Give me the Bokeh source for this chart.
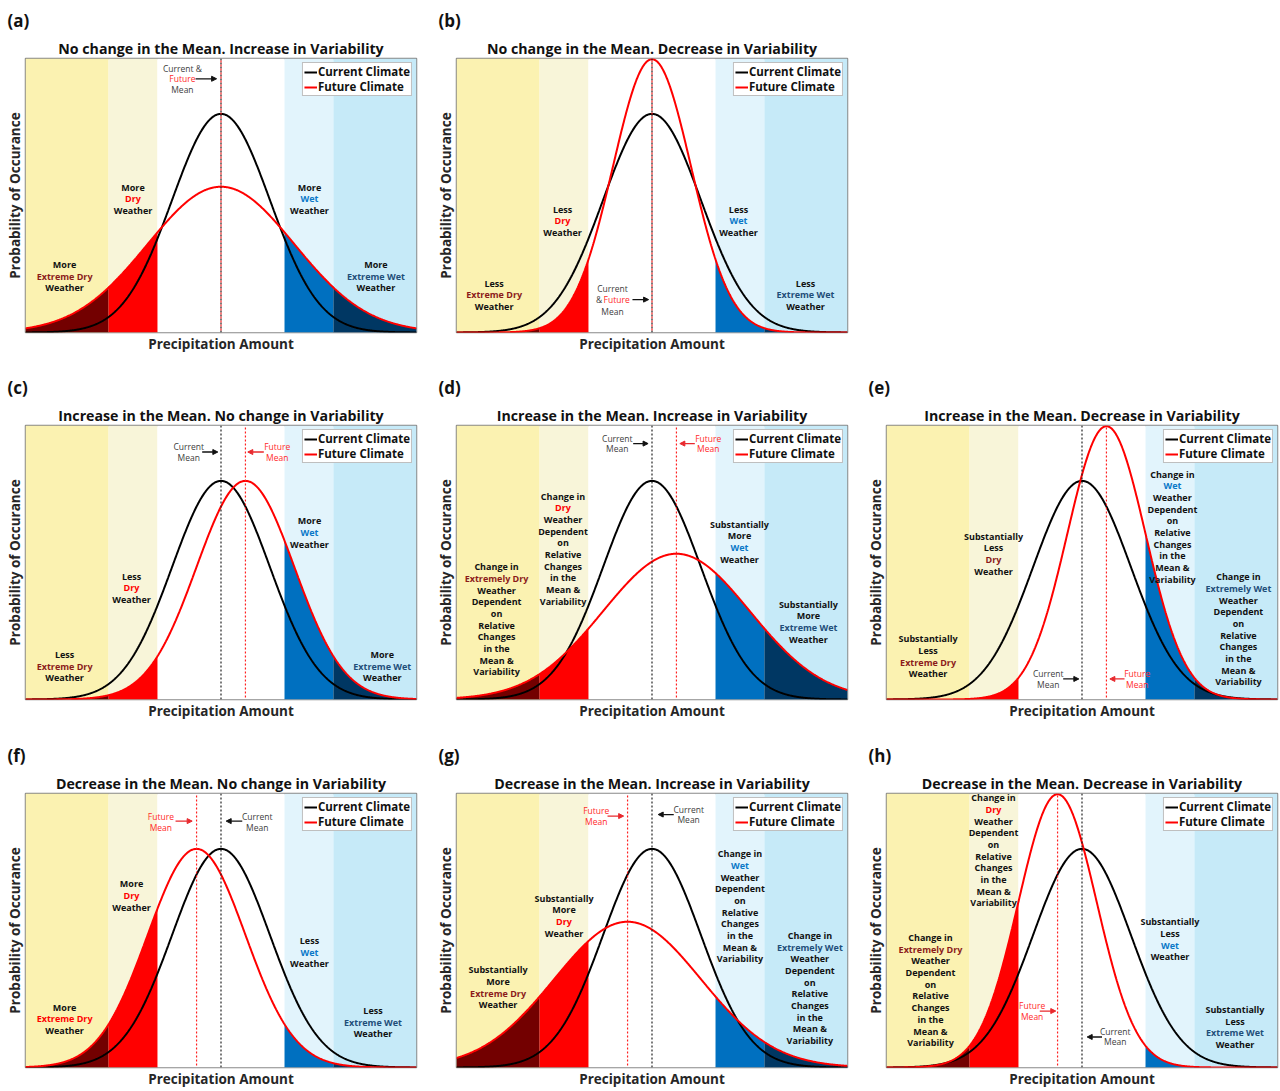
import numpy as np
from bokeh.plotting import figure
from bokeh.layouts import column, row
from bokeh.models import (ColumnDataSource, Range1d, Span, Arrow, NormalHead,
                          Legend, LegendItem, FixedTicker, Title)
from bokeh.core.properties import value
from bokeh.embed import file_html
from bokeh.resources import INLINE

# ---------------- data ----------------
panel_letters = ["(a)", "(b)", "(c)", "(d)", "(e)", "(f)", "(g)", "(h)"]
panel_titles = [
    "No change in the Mean. Increase in Variability",
    "No change in the Mean. Decrease in Variability",
    "Increase in the Mean. No change in Variability",
    "Increase in the Mean. Increase in Variability",
    "Increase in the Mean. Decrease in Variability",
    "Decrease in the Mean. No change in Variability",
    "Decrease in the Mean. Increase in Variability",
    "Decrease in the Mean. Decrease in Variability",
]
series_names = ["Current Climate", "Future Climate"]
x_label = "Precipitation Amount"
y_label = "Probability of Occurance"

current_mean = 0.0
current_sd = 1.0
future_means = [0.0, 0.0, 0.5, 0.5, 0.5, -0.5, -0.5, -0.5]
future_sds = [1.5, 0.8, 1.0, 1.5, 0.8, 1.0, 1.5, 0.8]

band_edges = [-4.0, -2.3, -1.3, 1.3, 2.3, 4.0]
band_names = ["Extreme Dry", "Dry", "Normal", "Wet", "Extreme Wet"]

CH = [("Dependent", "k"), ("on", "k"), ("Relative", "k"), ("Changes", "k"),
      ("in the", "k"), ("Mean &", "k"), ("Variability", "k")]

region_texts = [
    [[("More", "k"), ("Extreme Dry", "xd"), ("Weather", "k")],
     [("More", "k"), ("Dry", "d"), ("Weather", "k")],
     [("More", "k"), ("Wet", "w"), ("Weather", "k")],
     [("More", "k"), ("Extreme Wet", "xw"), ("Weather", "k")]],
    [[("Less", "k"), ("Extreme Dry", "xd"), ("Weather", "k")],
     [("Less", "k"), ("Dry", "d"), ("Weather", "k")],
     [("Less", "k"), ("Wet", "w"), ("Weather", "k")],
     [("Less", "k"), ("Extreme Wet", "xw"), ("Weather", "k")]],
    [[("Less", "k"), ("Extreme Dry", "xd"), ("Weather", "k")],
     [("Less", "k"), ("Dry", "d"), ("Weather", "k")],
     [("More", "k"), ("Wet", "w"), ("Weather", "k")],
     [("More", "k"), ("Extreme Wet", "xw"), ("Weather", "k")]],
    [[("Change in", "k"), ("Extremely Dry", "xd"), ("Weather", "k")] + CH,
     [("Change in", "k"), ("Dry", "d"), ("Weather", "k")] + CH,
     [("Substantially", "k"), ("More", "k"), ("Wet", "w"), ("Weather", "k")],
     [("Substantially", "k"), ("More", "k"), ("Extreme Wet", "xw"), ("Weather", "k")]],
    [[("Substantially", "k"), ("Less", "k"), ("Extreme Dry", "xd"), ("Weather", "k")],
     [("Substantially", "k"), ("Less", "k"), ("Dry", "xd"), ("Weather", "k")],
     [("Change in", "k"), ("Wet", "w"), ("Weather", "k")] + CH,
     [("Change in", "k"), ("Extremely Wet", "xw"), ("Weather", "k")] + CH],
    [[("More", "k"), ("Extreme Dry", "d"), ("Weather", "k")],
     [("More", "k"), ("Dry", "d"), ("Weather", "k")],
     [("Less", "k"), ("Wet", "w"), ("Weather", "k")],
     [("Less", "k"), ("Extreme Wet", "xw"), ("Weather", "k")]],
    [[("Substantially", "k"), ("More", "k"), ("Extreme Dry", "xd"), ("Weather", "k")],
     [("Substantially", "k"), ("More", "k"), ("Dry", "d"), ("Weather", "k")],
     [("Change in", "k"), ("Wet", "w"), ("Weather", "k")] + CH,
     [("Change in", "k"), ("Extremely Wet", "xw"), ("Weather", "k")] + CH],
    [[("Change in", "k"), ("Extremely Dry", "xd"), ("Weather", "k")] + CH,
     [("Change in", "k"), ("Dry", "d"), ("Weather", "k")] + CH,
     [("Substantially", "k"), ("Less", "k"), ("Wet", "w"), ("Weather", "k")],
     [("Substantially", "k"), ("Less", "k"), ("Extreme Wet", "xw"), ("Weather", "k")]],
]

# anchor (x, y of first line) of each region label, data units
region_pos = [
    [(-3.20, 0.124), (-1.80, 0.265), (1.81, 0.265), (3.17, 0.124)],
    [(-3.23, 0.090), (-1.83, 0.225), (1.77, 0.225), (3.14, 0.090)],
    [(-3.20, 0.082), (-1.83, 0.225), (1.81, 0.326), (3.30, 0.082)],
    [(-3.18, 0.242), (-1.82, 0.371), (1.79, 0.320), (3.20, 0.174)],
    [(-3.15, 0.111), (-1.81, 0.298), (1.85, 0.411), (3.20, 0.224)],
    [(-3.20, 0.110), (-1.83, 0.335), (1.81, 0.232), (3.11, 0.104)],
    [(-3.15, 0.178), (-1.80, 0.309), (1.80, 0.390), (3.23, 0.241)],
    [(-3.10, 0.237), (-1.81, 0.492), (1.80, 0.266), (3.13, 0.106)],
]

# mean annotations: (x, y, text, colour key, align)
note_pieces = [
    [(-0.79, 0.4825, "Current &", "nk", "center"), (-0.79, 0.463, "Future", "nf", "center"),
     (-0.79, 0.4436, "Mean", "nk", "center")],
    [(-0.81, 0.0794, "Current", "nk", "center"), (-1.02, 0.060, "&", "nk", "right"),
     (-0.99, 0.060, "Future", "nf", "left"), (-0.81, 0.039, "Mean", "nk", "center")],
    [(-0.66, 0.4617, "Current", "nk", "center"), (-0.66, 0.4417, "Mean", "nk", "center"),
     (1.15, 0.4617, "Future", "nf", "center"), (1.15, 0.4417, "Mean", "nf", "center")],
    [(-0.71, 0.4769, "Current", "nk", "center"), (-0.71, 0.4575, "Mean", "nk", "center"),
     (1.15, 0.4769, "Future", "nf", "center"), (1.15, 0.4575, "Mean", "nf", "center")],
    [(-0.69, 0.0467, "Current", "nk", "center"), (-0.69, 0.0273, "Mean", "nk", "center"),
     (1.13, 0.0467, "Future", "nf", "center"), (1.13, 0.0273, "Mean", "nf", "center")],
    [(-1.23, 0.458, "Future", "nf", "center"), (-1.23, 0.438, "Mean", "nf", "center"),
     (0.74, 0.458, "Current", "nk", "center"), (0.74, 0.438, "Mean", "nk", "center")],
    [(-1.14, 0.4685, "Future", "nf", "center"), (-1.14, 0.449, "Mean", "nf", "center"),
     (0.75, 0.4716, "Current", "nk", "center"), (0.75, 0.452, "Mean", "nk", "center")],
    [(-1.02, 0.1129, "Future", "nf", "center"), (-1.02, 0.0934, "Mean", "nf", "center"),
     (0.68, 0.0661, "Current", "nk", "center"), (0.68, 0.0466, "Mean", "nk", "center")],
]
# arrows: (x_start, x_end, y, colour key)
note_arrows = [
    [(-0.52, -0.09, 0.463, "k")],
    [(-0.40, -0.07, 0.060, "k")],
    [(-0.385, -0.065, 0.4516, "k"), (0.876, 0.548, 0.4516, "f")],
    [(-0.385, -0.08, 0.467, "k"), (0.876, 0.57, 0.467, "f")],
    [(-0.385, -0.065, 0.0375, "k"), (0.87, 0.57, 0.0375, "f")],
    [(-0.93, -0.59, 0.4496, "f"), (0.435, 0.106, 0.4496, "k")],
    [(-0.91, -0.58, 0.4588, "f"), (0.445, 0.127, 0.4616, "k")],
    [(-0.864, -0.537, 0.103, "f"), (0.41, 0.106, 0.0557, "k")],
]

# ---------------- style ----------------
FONT = "Open Sans"
BAND_COLORS = ["#fbf2b1", "#f8f5d9", "#ffffff", "#e2f4fc", "#c6eaf8"]
FILL_COLORS = ["#730000", "#ff0000", None, "#0070c0", "#003763"]
COLORS = {"k": "#111111", "xd": "#8b1a1a", "d": "#ff0000", "w": "#0a78c8",
          "xw": "#1f4e79", "nk": "#404040", "nf": "#ff2a2a", "f": "#e8282d"}
LS = 0.0213
X0, X1, Y0, Y1 = -4.0, 4.0, 0.0, 0.5


def pdf(x, m, s):
    return np.exp(-0.5 * ((x - m) / s) ** 2) / (s * np.sqrt(2 * np.pi))


def make_panel(i, width, height, left, bottom_border):
    p = figure(width=width, height=height, output_backend="svg", toolbar_location=None,
               x_range=Range1d(X0, X1), y_range=Range1d(Y0, Y1), title=None,
               min_border_left=left, min_border_right=width - left - 391,
               min_border_top=58, min_border_bottom=bottom_border)
    p.xgrid.visible = False
    p.ygrid.visible = False
    p.outline_line_color = "#888888"
    p.outline_line_width = 1.5
    p.border_fill_color = "white"
    p.background_fill_color = "white"

    for ax, lab in ((p.xaxis[0], x_label), (p.yaxis[0], y_label)):
        ax.ticker = FixedTicker(ticks=[])
        ax.axis_label = lab
        ax.axis_line_color = None
        ax.major_tick_line_color = None
        ax.minor_tick_line_color = None
        ax.major_label_text_font_size = "0px"
        ax.axis_label_text_font = FONT
        ax.axis_label_text_font_style = "bold"
        ax.axis_label_text_font_size = "13.5px"
        ax.axis_label_text_color = "#262626"
        ax.axis_label_standoff = 2

    # titles
    t_main = Title(text=panel_titles[i], align="center", text_font=FONT, standoff=2,
                   text_font_size="14.2px", text_font_style="bold", text_color="#111111")
    p.add_layout(t_main, "above")
    t_letter = Title(text=panel_letters[i], align="left", offset=-18, text_font=FONT,
                     standoff=8, text_font_size="17px", text_font_style="bold",
                     text_color="#111111")
    p.add_layout(t_letter, "above")

    # background bands
    p.quad(left=band_edges[:-1], right=band_edges[1:], bottom=Y0, top=Y1,
           fill_color=BAND_COLORS, line_color=None)

    # filled tails under the future curve
    fm, fs = future_means[i], future_sds[i]
    for b in range(5):
        if FILL_COLORS[b] is None:
            continue
        xs = np.linspace(band_edges[b], band_edges[b + 1], 200)
        p.varea(x=xs, y1=np.zeros_like(xs), y2=pdf(xs, fm, fs), fill_color=FILL_COLORS[b])

    # mean lines
    p.add_layout(Span(location=current_mean, dimension="height", line_color="#222222",
                      line_dash="2 2", line_width=1.2))
    p.add_layout(Span(location=fm, dimension="height", line_color="#ff2020",
                      line_dash="2 2", line_dash_offset=2, line_width=1.2))

    x = np.linspace(X0, X1, 801)
    r_cur = p.line(x, pdf(x, current_mean, current_sd), line_color="black", line_width=2)
    r_fut = p.line(x, pdf(x, fm, fs), line_color="#ff0000", line_width=2)

    # region labels
    rx, ry, rt, rc = [], [], [], []
    for (ax_, ay_), lines in zip(region_pos[i], region_texts[i]):
        for k, (t, ck) in enumerate(lines):
            rx.append(ax_)
            ry.append(ay_ - k * LS)
            rt.append(t)
            rc.append(COLORS[ck])
    p.text(x="x", y="y", text="t", text_color="c",
           source=ColumnDataSource(dict(x=rx, y=ry, t=rt, c=rc)),
           text_font=value(FONT), text_font_style="bold", text_font_size="9px",
           text_align="center", text_baseline="middle")

    # mean notes
    for align in ("center", "left", "right"):
        pcs = [pc for pc in note_pieces[i] if pc[4] == align]
        if not pcs:
            continue
        p.text(x=[pc[0] for pc in pcs], y=[pc[1] for pc in pcs], text=[pc[2] for pc in pcs],
               text_color=[COLORS[pc[3]] for pc in pcs], text_font=value(FONT),
               text_font_size="8.5px", text_align=align, text_baseline="middle")
    for (xa, xb, ya, ck) in note_arrows[i]:
        c = COLORS[ck]
        p.add_layout(Arrow(end=NormalHead(size=5, line_color=c, fill_color=c),
                           x_start=xa, y_start=ya, x_end=xb, y_end=ya,
                           line_color=c, line_width=1.3))

    legend = Legend(items=[LegendItem(label=series_names[0], renderers=[r_cur]),
                           LegendItem(label=series_names[1], renderers=[r_fut])],
                    location="top_right", label_text_font=FONT,
                    label_text_font_style="bold", label_text_font_size="11.5px",
                    label_text_color="#111111", glyph_width=13, glyph_height=12,
                    label_height=12, label_standoff=1, spacing=0, padding=1, margin=4,
                    border_line_color="#7f7f7f", border_line_width=1.5,
                    background_fill_color="white", background_fill_alpha=1.0)
    p.add_layout(legend)
    return p


widths = [430, 430, 420]
lefts = [25, 26, 26]
heights = [367, 368, 356]
bottoms = [35, 36, 24]

pa = make_panel(0, widths[0], heights[0], lefts[0], bottoms[0])
pb = make_panel(1, widths[1], heights[0], lefts[1], bottoms[0])
pc = make_panel(2, widths[0], heights[1], lefts[0], bottoms[1])
pd = make_panel(3, widths[1], heights[1], lefts[1], bottoms[1])
pe = make_panel(4, widths[2], heights[1], lefts[2], bottoms[1])
pf = make_panel(5, widths[0], heights[2], lefts[0], bottoms[2])
pg = make_panel(6, widths[1], heights[2], lefts[1], bottoms[2])
ph = make_panel(7, widths[2], heights[2], lefts[2], bottoms[2])

layout = column(row(pa, pb), row(pc, pd, pe), row(pf, pg, ph))
open("out.html", "w").write(file_html(layout, INLINE))
